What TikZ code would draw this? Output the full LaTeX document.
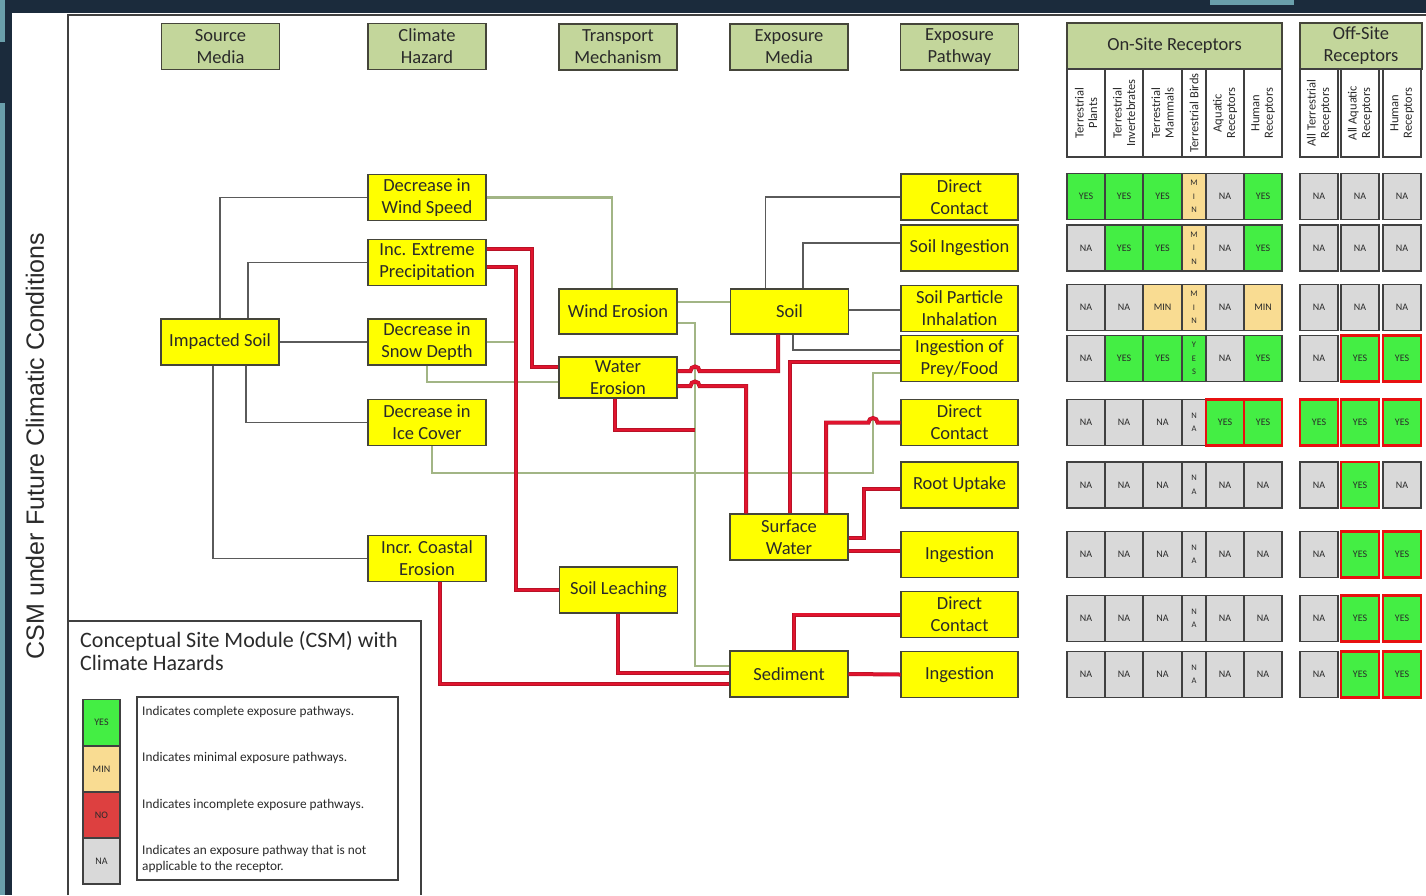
\documentclass[tikz,border=0pt]{standalone}
\usepackage{fontspec}
\setmainfont{Carlito}
\newfontfamily\arialf{Liberation Sans}
\definecolor{navyc}{HTML}{1B2B3C}
\definecolor{tealc}{HTML}{6A9FAB}
\definecolor{yboxc}{HTML}{FFFF00}
\definecolor{bline}{HTML}{45453A}
\definecolor{hgreen}{HTML}{C3D69B}
\definecolor{yesg}{HTML}{44EE44}
\definecolor{minc}{HTML}{F9DC92}
\definecolor{nac}{HTML}{D9D9D9}
\definecolor{noc}{HTML}{DD4040}
\definecolor{redl}{HTML}{E0142E}
\definecolor{redd}{HTML}{B81226}
\definecolor{grnl}{HTML}{A2B585}
\definecolor{gryl}{HTML}{5A5A5A}
\definecolor{txtc}{HTML}{2A2A2A}
\definecolor{cellb}{HTML}{404040}
\definecolor{redb}{HTML}{E81010}
\newcommand\gridrow[3]{%
  \foreach \st/\tx [count=\c] in {#3}{%
    \pgfmathsetmacro\cx{{1086,1124,1162.5,1194,1225,1263,1319,1360,1402}[\c-1]}%
    \pgfmathsetmacro\cw{{38,38,39,24,38,38,38,38,38}[\c-1]}%
    \node[\st, minimum width=\cw pt] (g#1-\c) at (\cx,#2) {\tx};}}
\begin{document}
\begin{tikzpicture}[x=1pt,y=-1pt,
  ybox/.style={draw=bline, line width=1.3pt, fill=yboxc, align=center, text=txtc,
    font=\fontsize{18.5}{22}\selectfont, inner sep=0pt, minimum width=118pt, minimum height=46pt},
  hbox/.style={ybox, fill=hgreen},
  cell/.style={draw=cellb, line width=1.4pt, inner sep=0pt, minimum height=46pt,
    font=\fontsize{10}{11}\selectfont, text=txtc, align=center},
  cY/.style={cell, fill=yesg},
  cYr/.style={cell, fill=yesg, draw=redb, line width=2.6pt},
  cN/.style={cell, fill=nac},
  cM/.style={cell, fill=minc},
  vM/.style={cell, fill=minc, font=\fontsize{8.5}{13.5}\selectfont},
  vY/.style={cell, fill=yesg, font=\fontsize{8.5}{13.5}\selectfont},
  vN/.style={cell, fill=nac, font=\fontsize{8.5}{13.5}\selectfont},
  rhdr/.style={draw=cellb, line width=1.4pt, fill=white, inner sep=0pt, minimum width=88pt,
    align=center, text=txtc, font=\fontsize{12.5}{13.5}\selectfont},
  swt/.style={draw=cellb, line width=1.3pt, inner sep=0pt, minimum width=37pt, minimum height=46pt,
    font=\fontsize{10}{11}\selectfont, text=txtc},
  ltx/.style={anchor=west, inner sep=0pt, text=txtc, font=\fontsize{13.3}{15.5}\selectfont, align=left},
  framel/.style={draw=cellb, line width=1.5pt},
  gl/.style={draw=gryl, line width=1.6pt},
  grl/.style={draw=grnl, line width=2.2pt},
  rl/.style={draw=redd, double=redl, double distance=2.8pt, line width=0.6pt}]
\useasboundingbox (0,0) rectangle (1426,895);
\fill[white] (0,0) rectangle (1426,895);
\fill[navyc] (0,0) rectangle (1426,13);
\fill[navyc] (0,0) rectangle (12,895);
\fill[tealc] (0,0) rectangle (5,42);
\fill[tealc] (0,103) rectangle (5,895);
\fill[tealc] (1210,0) rectangle (1294,5);
\draw[framel] (68,895) -- (68,15) -- (1426,15);

\node[font=\arialf\fontsize{25}{28}\selectfont, text=txtc, rotate=90] (title) at (35,446) {CSM under Future Climatic Conditions};

% column headers
\node[hbox] (hsrc) at (220.5,46.5) {Source\\Media};
\node[hbox] (hcl) at (427,46.5) {Climate\\Hazard};
\node[hbox] (htr) at (618,47) {Transport\\Mechanism};
\node[hbox] (hem) at (789,47) {Exposure\\Media};
\node[hbox] (hep) at (959.5,47) {Exposure\\Pathway};
\node[hbox, minimum width=215pt] (hon) at (1174.5,46) {On-Site Receptors};
\node[hbox, minimum width=122pt] (hoff) at (1361,46) {Off-Site\\Receptors};

% receptor headers
\foreach \tx [count=\c] in {{Terrestrial\\Plants},{Terrestrial\\Invertebrates},{Terrestrial\\Mammals},{Terrestrial Birds},{Aquatic\\Receptors},{Human\\Receptors},{All Terrestrial\\Receptors},{All Aquatic\\Receptors},{Human\\Receptors}}{%
  \pgfmathsetmacro\cx{{1086,1124,1162.5,1194,1225,1263,1319,1360,1402}[\c-1]}%
  \pgfmathsetmacro\cw{{38,38,39,24,38,38,38,38,38}[\c-1]}%
  \node[rhdr, rotate=90, minimum height=\cw pt] (rh\c) at (\cx,113) {\tx};}

% yellow boxes
\node[ybox] (is) at (220,342) {Impacted Soil};
\node[ybox] (ws) at (427,197.5) {Decrease in\\Wind Speed};
\node[ybox] (pr) at (427,262.5) {Inc. Extreme\\Precipitation};
\node[ybox] (sn) at (427,342) {Decrease in\\Snow Depth};
\node[ybox] (ic) at (427,422.5) {Decrease in\\Ice Cover};
\node[ybox] (ce) at (427,558.5) {Incr. Coastal\\Erosion};
\node[ybox, minimum height=45pt] (we) at (618,311.5) {Wind Erosion};
\node[ybox, minimum height=41pt] (wr) at (618,377.5) {Water\\Erosion};
\node[ybox] (sl) at (618.5,590) {Soil Leaching};
\node[ybox, minimum height=45pt] (soil) at (789.5,311.5) {Soil};
\node[ybox] (sw) at (789,537) {Surface\\Water};
\node[ybox] (sed) at (789,674) {Sediment};
\node[ybox, minimum width=117pt] (dc1) at (959.5,197) {Direct\\Contact};
\node[ybox, minimum width=117pt] (si) at (959.5,248) {Soil Ingestion};
\node[ybox, minimum width=117pt] (spi) at (959.5,308.5) {Soil Particle\\Inhalation};
\node[ybox, minimum width=117pt] (pf) at (959.5,358.5) {Ingestion of\\Prey/Food};
\node[ybox, minimum width=117pt] (dc2) at (959.5,422.5) {Direct\\Contact};
\node[ybox, minimum width=117pt] (ru) at (959.5,485) {Root Uptake};
\node[ybox, minimum width=117pt] (in1) at (959.5,554.5) {Ingestion};
\node[ybox, minimum width=117pt] (dc3) at (959.5,614.5) {Direct\\Contact};
\node[ybox, minimum width=117pt] (in2) at (959.5,674.5) {Ingestion};

% gray connectors
\draw[gl] (is.north) |- (ws.west);
\draw[gl] ([xshift=28pt]is.north) |- (pr.west);
\draw[gl] (is.east) -- (sn.west);
\draw[gl] ([xshift=26pt]is.south) |- (ic.west);
\draw[gl] ([xshift=-7pt]is.south) |- (ce.west);
\draw[gl] ([xshift=-24pt]soil.north) |- (dc1.west);
\draw[gl] ([xshift=13.5pt]soil.north) |- ([yshift=5pt]si.west);
\coordinate (soe) at ([yshift=1.5pt]soil.east);
\draw[gl] (soe) -- (soe -| spi.west);
\draw[gl] ([xshift=3.5pt]soil.south) |- ([yshift=8.5pt]pf.west);

% green connectors
\draw[grl] (ws.east) -| ([xshift=-6pt]we.north);
\coordinate (snend) at (515,342);
\draw[grl] (sn.east) -- (snend);
\draw[grl] (sn.south) |- ([yshift=-4.5pt]wr.west);
\draw[grl] ([xshift=5pt]ic.south) |- (873,473) |- ([yshift=-14.5pt]pf.west);
\coordinate (wes) at ([yshift=9.5pt]we.east);
\draw[grl] (wes) -- (wes -| soil.west);
\draw[grl] ([yshift=-11.5pt]we.east) -| (695,666) -- ([yshift=8pt]sed.west);

% red connectors
\draw[rl] ([yshift=13.5pt]pr.east) -| (532,367) -- ([yshift=10.5pt]wr.west);
\draw[rl] ([yshift=-4.5pt]pr.east) -| (516,590) -- (sl.west);
\draw[rl] ([yshift=6.5pt]wr.east) -- (690.5,371) arc[start angle=180,end angle=360,radius=4.5] -| ([xshift=-11.5pt]soil.south);
\draw[rl] ([yshift=-8.5pt]wr.east) -- (690.5,386) arc[start angle=180,end angle=360,radius=4.5] -| ([xshift=-43pt]sw.north);
\coordinate (wrend) at (695,430);
\draw[rl] ([xshift=-3pt]wr.south) |- (wrend);
\draw[rl] ([xshift=1pt]sw.north) |- ([yshift=-3.5pt]pf.west);
\draw[rl] ([xshift=37pt]sw.north) |- (868.5,422.5) arc[start angle=180,end angle=360,radius=4.5] -- (dc2.west);
\draw[rl] ([yshift=-1pt]sw.east) -| (864,489) -- ([yshift=-4pt]ru.west);
\coordinate (swe) at ([yshift=-14pt]sw.east);
\draw[rl] (swe) -- (swe -| in1.west);
\draw[rl] ([xshift=5pt]sed.north) |- (dc3.west);
\draw[rl] (sed.east) -- (in2.west);
\draw[rl] ([xshift=-0.5pt]sl.south) |- ([yshift=1pt]sed.west);
\draw[rl] ([xshift=13pt]ce.south) |- ([yshift=-10pt]sed.west);

% grid
\gridrow{1}{196.5}{cY/YES,cY/YES,cY/YES,vM/{M\\I\\N},cN/NA,cY/YES,cN/NA,cN/NA,cN/NA}
\gridrow{2}{248}{cN/NA,cY/YES,cY/YES,vM/{M\\I\\N},cN/NA,cY/YES,cN/NA,cN/NA,cN/NA}
\gridrow{3}{307.5}{cN/NA,cN/NA,cM/MIN,vM/{M\\I\\N},cN/NA,cM/MIN,cN/NA,cN/NA,cN/NA}
\gridrow{4}{358.5}{cN/NA,cY/YES,cY/YES,vY/{Y\\E\\S},cN/NA,cY/YES,cN/NA,cYr/YES,cYr/YES}
\gridrow{5}{422.5}{cN/NA,cN/NA,cN/NA,vN/{N\\A},cYr/YES,cYr/YES,cYr/YES,cYr/YES,cYr/YES}
\gridrow{6}{485}{cN/NA,cN/NA,cN/NA,vN/{N\\A},cN/NA,cN/NA,cN/NA,cYr/YES,cN/NA}
\gridrow{7}{554.5}{cN/NA,cN/NA,cN/NA,vN/{N\\A},cN/NA,cN/NA,cN/NA,cYr/YES,cYr/YES}
\gridrow{8}{618.5}{cN/NA,cN/NA,cN/NA,vN/{N\\A},cN/NA,cN/NA,cN/NA,cYr/YES,cYr/YES}
\gridrow{9}{674.5}{cN/NA,cN/NA,cN/NA,vN/{N\\A},cN/NA,cN/NA,cN/NA,cYr/YES,cYr/YES}

% legend
\draw[framel] (68,621) -- (421,621) -- (421,895);
\node[anchor=north west, align=left, inner sep=0pt, font=\fontsize{22}{23.5}\selectfont, text=txtc] (lt) at (80,631) {Conceptual Site Module (CSM) with\\Climate Hazards};
\node[swt, fill=yesg] (l1) at (101.5,722.5) {YES};
\node[swt, fill=minc] (l2) at (101.5,769) {MIN};
\node[swt, fill=noc] (l3) at (101.5,815) {NO};
\node[swt, fill=nac] (l4) at (101.5,861) {NA};
\node[draw=cellb, line width=1.2pt, minimum width=261pt, minimum height=183pt, inner sep=0pt] (ld) at (267.5,788.5) {};
\node[ltx] (d1) at (142,712) {Indicates complete exposure pathways.};
\node[ltx] (d2) at (142,758) {Indicates minimal exposure pathways.};
\node[ltx] (d3) at (142,805) {Indicates incomplete exposure pathways.};
\node[ltx] (d4) at (142,859) {Indicates an exposure pathway that is not\\applicable to the receptor.};
\end{tikzpicture}
\end{document}
